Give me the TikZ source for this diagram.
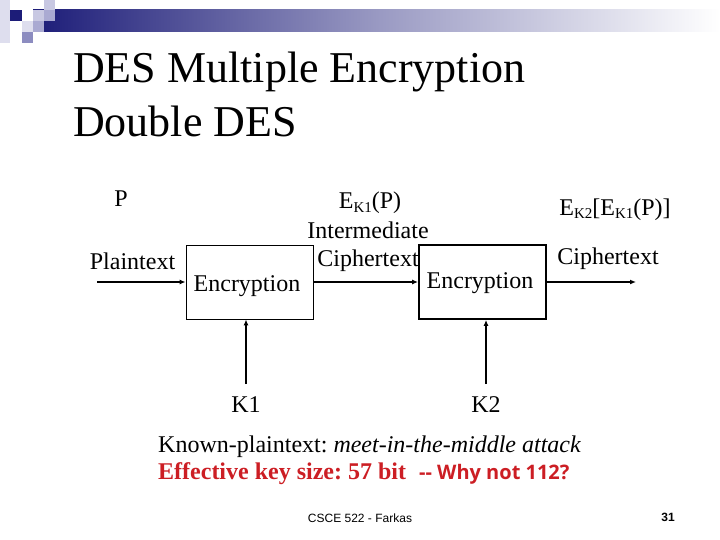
\documentclass[tikz,border=0pt]{standalone}
\usepackage{fontspec}
\setmainfont{Liberation Serif}[BoldFont={Liberation Serif Bold}, ItalicFont={Liberation Serif Italic}, BoldItalicFont={Liberation Serif Bold Italic}]
\newfontfamily\arialf{Liberation Sans}
\newfontfamily\osans{Open Sans}
\usetikzlibrary{arrows.meta}
\definecolor{navy}{RGB}{28,28,120}
\definecolor{lightsq}{RGB}{222,222,238}
\definecolor{midsq}{RGB}{170,170,210}
\definecolor{medsq}{RGB}{140,140,192}
\definecolor{paleSq}{RGB}{200,200,226}
\definecolor{redtxt}{RGB}{204,30,36}
\tikzset{
  txt/.style={inner sep=0pt, anchor=base, font=\fontsize{24}{28}\selectfont},
  encbox/.style={draw, minimum width=127pt, minimum height=74pt, inner sep=0pt},
  flow/.style={line width=2pt, -{Latex[length=6pt,width=5pt]}},
}
\newcommand{\sbk}[1]{\raisebox{-0.3ex}{\fontsize{15}{15}\selectfont #1}}
\frenchspacing
\begin{document}
\begin{tikzpicture}[x=1pt,y=-1pt]
\useasboundingbox (0,0) rectangle (720,540);
% header decoration
\shade[left color=navy, right color=white, middle color=navy!45!white] (33,10) rectangle (720,32);
\fill[lightsq] (0,0) rectangle (10,43);
\fill[navy] (10,10) rectangle (22,21);
\fill[paleSq] (44,0) rectangle (55,10);
\fill[paleSq] (33,10) rectangle (44,21);
\fill[midsq] (44,10) rectangle (55,21);
\fill[lightsq] (22,21) rectangle (33,32);
\fill[midsq] (33,21) rectangle (44,32);
\fill[medsq] (22,32) rectangle (33,43);
% title
\node[inner sep=0pt, anchor=base west, font=\fontsize{44}{48}\selectfont] (t1) at (73,83) {DES Multiple Encryption};
\node[inner sep=0pt, anchor=base west, font=\fontsize{44}{48}\selectfont] (t2) at (73,137) {Double DES};
% boxes
\node[encbox, line width=0.8pt] (b1) at (249.5,282) {};
\node[encbox, line width=1.8pt] (b2) at (482.5,282) {};
\node[txt] (e1) at (247,291) {Encryption};
\node[txt] (e2) at (480,288) {Encryption};
% labels
\node[txt] (p) at (121,207) {P};
\node[txt] (pt) at (132.5,269) {Plaintext};
\node[txt] (ek1) at (370,209) {E\sbk{K1}(P)};
\node[txt] (im) at (368,238) {Intermediate};
\node[txt] (ct1) at (368,266) {Ciphertext};
\node[txt] (ek2) at (615,215) {E\sbk{K2}[E\sbk{K1}(P)]};
\node[txt] (ct2) at (608,264) {Ciphertext};
\node[txt] (k1) at (246,412) {K1};
\node[txt] (k2) at (486,412) {K2};
% connectors
\coordinate (in) at (97,282);
\coordinate (out) at (636,282);
\coordinate (k1s) at (246,384);
\coordinate (k2s) at (486,384);
\draw[flow] (in) -- (b1.west);
\draw[flow] (b1.east) -- (b2.west);
\draw[flow] (b2.east) -- (out);
\draw[flow] (k1s) -- (k1s |- b1.south);
\draw[flow] (k2s) -- (k2s |- b2.south);
% bottom text
\node[inner sep=0pt, anchor=base west, font=\fontsize{24}{28}\selectfont] (kp) at (158,452) {Known-plaintext: \textit{meet-in-the-middle attack}};
\node[inner sep=0pt, anchor=base west, font=\fontsize{24}{28}\selectfont\bfseries, text=redtxt] (eff) at (158,479) {Effective key size: 57 bit\hspace{13pt}{\osans\fontsize{20}{24}\selectfont\bfseries -{}- Why not 112?}};
\node[inner sep=0pt, anchor=base, font=\arialf\fontsize{12}{14}\selectfont] (ft) at (360,522) {CSCE 522 - Farkas};
\node[inner sep=0pt, anchor=base, font=\arialf\fontsize{12}{14}\selectfont\bfseries] (pg) at (668,521) {31};
\end{tikzpicture}
\end{document}
